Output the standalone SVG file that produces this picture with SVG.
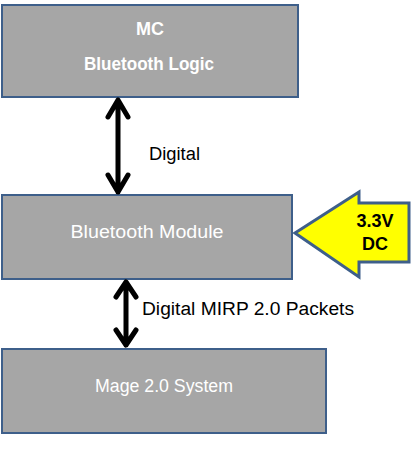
<svg xmlns="http://www.w3.org/2000/svg" width="419" height="454" viewBox="0 0 419 454">
<style>
.box{fill:#a6a6a6;stroke:#3e5f8a;stroke-width:2}
.t{font-family:"Liberation Sans",Arial,sans-serif;font-size:18px;fill:#ffffff;text-anchor:middle}
.b{font-weight:bold}
.lbl{font-family:"Liberation Sans",Arial,sans-serif;font-size:18px;fill:#000000}
.arr{fill:none;stroke:#000000;stroke-width:5;stroke-linecap:round;stroke-linejoin:round}
</style>
<rect width="419" height="454" fill="#ffffff"/>
<g id="mc">
<rect class="box" x="2" y="5" width="296" height="92"/>
<text class="t b" x="150" y="35">MC</text>
<text class="t b" x="149" y="70" textLength="130" lengthAdjust="spacingAndGlyphs">Bluetooth Logic</text>
</g>
<g id="bt">
<rect class="box" x="2" y="195" width="290" height="84"/>
<text class="t" x="147" y="238" fill="#f2f2f2" textLength="153" lengthAdjust="spacingAndGlyphs">Bluetooth Module</text>
</g>
<g id="mage">
<rect class="box" x="2" y="349" width="324" height="84"/>
<text class="t" x="164" y="392" textLength="138" lengthAdjust="spacingAndGlyphs">Mage 2.0 System</text>
</g>
<g id="power">
<polygon points="295,233 359,192 359,203 409,203 409,262 359,262 359,277" fill="#ffff00" stroke="#3e5f8a" stroke-width="3" stroke-linejoin="miter"/>
<text class="lbl b" x="375" y="227" text-anchor="middle" font-size="18" fill="#1a1a1a">3.3V</text>
<text class="lbl b" x="375" y="250" text-anchor="middle" font-size="18" fill="#1a1a1a">DC</text>
</g>
<g id="connectors">
<path class="arr" d="M118,100 L118,192 M108,117 L118,100 L128,117 M108,175 L118,192 L128,175"/>
<text class="lbl" x="149" y="160" textLength="51" lengthAdjust="spacingAndGlyphs">Digital</text>
<path class="arr" d="M126,282 L126,345 M116,297 L126,282 L136,297 M116,330 L126,345 L136,330"/>
<text class="lbl" x="142" y="315" textLength="212" lengthAdjust="spacingAndGlyphs">Digital MIRP 2.0 Packets</text>
</g>
</svg>
